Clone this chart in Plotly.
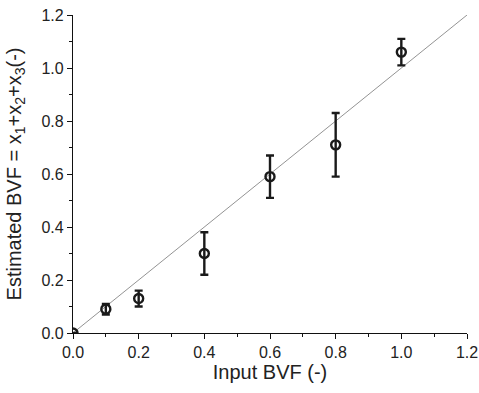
import plotly.graph_objects as go

input_bvf = [0.0, 0.1, 0.2, 0.4, 0.6, 0.8, 1.0]
estimated_bvf = [0.0, 0.09, 0.13, 0.30, 0.59, 0.71, 1.06]
err_plus = [0.0, 0.02, 0.03, 0.08, 0.08, 0.12, 0.05]
err_minus = [0.0, 0.02, 0.03, 0.08, 0.08, 0.12, 0.05]
identity_x = [0.0, 1.2]
identity_y = [0.0, 1.2]
tick_vals = [0.0, 0.2, 0.4, 0.6, 0.8, 1.0, 1.2]
tick_text = ["0.0", "0.2", "0.4", "0.6", "0.8", "1.0", "1.2"]

FONT = "Liberation Sans, Arial, sans-serif"

fig = go.Figure()
fig.add_trace(go.Scatter(x=identity_x, y=identity_y, mode="lines",
                         line=dict(color="#777777", width=0.8), showlegend=False))
fig.add_trace(go.Scatter(
    x=input_bvf, y=estimated_bvf, mode="markers",
    marker=dict(symbol="circle-open", size=9, color="#1a1a1a", line=dict(width=2.4, color="#1a1a1a")),
    error_y=dict(type="data", array=err_plus, arrayminus=err_minus, color="#1a1a1a", thickness=2.4, width=4),
    showlegend=False))

axis_common = dict(
    range=[0, 1.2], tickvals=tick_vals, ticktext=tick_text,
    ticks="outside", ticklen=5, tickwidth=1.3, tickcolor="#111",
    showline=True, linecolor="#111", linewidth=1.3,
    showgrid=False, zeroline=False, automargin=False,
    minor=dict(dtick=0.1, ticks="outside", ticklen=3, tickwidth=1.1, tickcolor="#111", showgrid=False),
    tickfont=dict(family=FONT, size=16, color="#222"),
)

fig.update_layout(
    width=479, height=393,
    margin=dict(l=73, r=12, t=15, b=60),
    plot_bgcolor="white", paper_bgcolor="white",
    font=dict(family=FONT, color="#222"),
    xaxis=dict(**axis_common, title=dict(text="Input BVF (-)", font=dict(family=FONT, size=20), standoff=3)),
    yaxis=dict(**axis_common, title=dict(text="Estimated BVF = x<sub>1</sub>+x<sub>2</sub>+x<sub>3</sub>(-)",
                                         font=dict(family=FONT, size=20), standoff=14)),
)

fig.write_html("out.html", config={"displayModeBar": False},
               post_script="document.body.style.margin='0';document.body.style.overflow='hidden';")
